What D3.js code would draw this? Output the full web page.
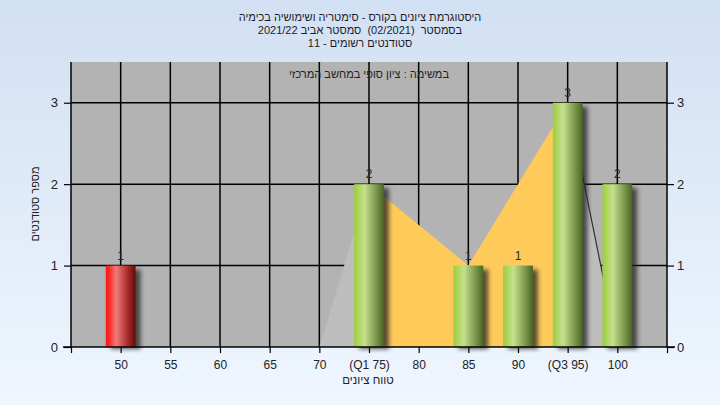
<!DOCTYPE html>
<html>
<head>
<meta charset="utf-8">
<script src="https://cdn.jsdelivr.net/npm/d3@7"></script>
<style>
html,body{margin:0;padding:0;}
body{width:720px;height:405px;overflow:hidden;}
text{font-family:"Liberation Sans", Arial, sans-serif;}
</style>
</head>
<body>
<svg id="chart" width="720" height="405"></svg>
<script>
// ---- data ----
const grades = [50, 55, 60, 65, 70, 75, 80, 85, 90, 95, 100];
const gradeLabels = ["50", "55", "60", "65", "70", "(Q1 75)", "80", "85", "90", "(Q3 95)", "100"];
const counts = [1, 0, 0, 0, 0, 2, 0, 1, 1, 3, 2];
const failLimit = 55;
const areaGrades = [70, 75, 85, 95, 100];
const areaValues = [0, 2, 1, 3, 0];
const q1 = 75, q3 = 95;
const yTicks = [0, 1, 2, 3];
const titleLines = ["היסטוגרמת ציונים בקורס - סימטריה ושימושיה בכימיה",
                    "בסמסטר  (02/2021)  סמסטר אביב 2021/22",
                    "סטודנטים רשומים - 11"];
const innerLabel = "במשימה : ציון סופי במחשב המרכזי";
const xTitle = "טווח ציונים";
const yTitle = "מספר סטודנטים";

const svg = d3.select("#chart");
const defs = svg.append("defs");

const bg = defs.append("linearGradient").attr("id","bg").attr("x1",0).attr("x2",0).attr("y1",0).attr("y2",1);
bg.append("stop").attr("offset","0%").attr("stop-color","#d2e0f3");
bg.append("stop").attr("offset","100%").attr("stop-color","#eff6fe");

function cyl(id, stops){
  const g = defs.append("linearGradient").attr("id",id).attr("x1",0).attr("x2",1).attr("y1",0).attr("y2",0);
  stops.forEach(s=>g.append("stop").attr("offset",s[0]).attr("stop-color",s[1]));
}
cyl("red", [["0%","#ff1414"],["12%","#ff2a2a"],["35%","#f07c7c"],["50%","#d55a5a"],["75%","#a52a2a"],["100%","#640808"]]);
cyl("green", [["0%","#9ccd42"],["15%","#acd660"],["35%","#c6e08e"],["50%","#a8c474"],["75%","#78964a"],["100%","#4a6424"]]);

const blur = defs.append("filter").attr("id","sh").attr("x","-50%").attr("y","-20%").attr("width","200%").attr("height","140%");
blur.append("feGaussianBlur").attr("stdDeviation",2.2);

svg.append("rect").attr("width",720).attr("height",405).attr("fill","url(#bg)");

const L = 71, R = 667, T = 62, B = 347;
const x = d3.scaleLinear().domain([45, 105]).range([L, R]);
const y = d3.scaleLinear().domain([0, 3.5]).range([B, T]);

// plot background
svg.append("rect").attr("x",L).attr("y",T).attr("width",R-L).attr("height",B-T).attr("fill","#b3b3b3");

// gridlines
const grid = svg.append("g").attr("stroke","#000").attr("stroke-width",1.5);
grades.forEach(g=>grid.append("line").attr("x1",x(g)).attr("x2",x(g)).attr("y1",T).attr("y2",B));
yTicks.slice(1).forEach(t=>grid.append("line").attr("x1",L).attr("x2",R).attr("y1",y(t)).attr("y2",y(t)));

// area (light grey outside quartiles, yellow inside)
const pts = areaGrades.map((g,i)=>[g, areaValues[i]]);
const area = d3.area().x(d=>x(d[0])).y0(y(0)).y1(d=>y(d[1]));
const left = pts.filter(d=>d[0]<=q1), mid = pts.filter(d=>d[0]>=q1 && d[0]<=q3), right = pts.filter(d=>d[0]>=q3);
svg.append("path").attr("d",area(left)).attr("fill","#bdbdbd");
svg.append("path").attr("d",area(mid)).attr("fill","#fecb5b");
svg.append("path").attr("d",area(right)).attr("fill","#bdbdbd");
svg.append("path").attr("d",d3.line().x(d=>x(d[0])).y(d=>y(d[1]))(right)).attr("fill","none").attr("stroke","#333").attr("stroke-width",1.2);

// bars
const bw = x(48) - x(45);
const bars = svg.append("g");
grades.forEach((g,i)=>{
  if(!counts[i]) return;
  const bx = x(g) - bw/2, by = y(counts[i]), bh = y(0) - by;
  bars.append("rect").attr("x",bx+5).attr("y",by+4).attr("width",bw).attr("height",bh-2)
    .attr("fill","#222").attr("opacity",0.75).attr("filter","url(#sh)");
});
grades.forEach((g,i)=>{
  if(!counts[i]) return;
  const bx = x(g) - bw/2, by = y(counts[i]), bh = y(0) - by;
  bars.append("rect").attr("x",bx).attr("y",by).attr("width",bw).attr("height",bh)
    .attr("fill", g < failLimit ? "url(#red)" : "url(#green)");
  bars.append("text").attr("x",x(g)).attr("y",by-6).attr("text-anchor","middle")
    .attr("font-size",12).attr("fill","#2a2a2a").text(counts[i]);
});

// axes frame
const ax = svg.append("g").attr("stroke","#000").attr("stroke-width",1.5);
ax.append("line").attr("x1",L).attr("x2",L).attr("y1",T).attr("y2",B);
ax.append("line").attr("x1",R).attr("x2",R).attr("y1",T).attr("y2",B);
ax.append("line").attr("x1",L-8).attr("x2",R+8).attr("y1",B).attr("y2",B);

// bottom axis
const xAxis = d3.axisBottom(x).tickValues(d3.range(45, 106, 5)).tickSize(6)
  .tickFormat(d=>{const i = grades.indexOf(d); return i<0 ? "" : gradeLabels[i];});
const gx = svg.append("g").attr("transform",`translate(0,${B})`).call(xAxis);
gx.select(".domain").remove();
gx.selectAll("line").attr("stroke","#000").attr("stroke-width",1.2);
gx.selectAll("text").attr("font-size",12).attr("fill","#222").attr("dy","1.1em").attr("direction","ltr");

// left / right axes
const yl = svg.append("g").attr("transform",`translate(${L},0)`).call(d3.axisLeft(y).tickValues(yTicks).tickSize(7).tickPadding(6).tickFormat(d3.format("d")));
const yr = svg.append("g").attr("transform",`translate(${R},0)`).call(d3.axisRight(y).tickValues(yTicks).tickSize(7).tickPadding(3).tickFormat(d3.format("d")));
[yl,yr].forEach(g=>{
  g.select(".domain").remove();
  g.selectAll("line").attr("stroke","#000").attr("stroke-width",1.2);
  g.selectAll("text").attr("font-size",13).attr("fill","#222");
});

// titles
titleLines.forEach((t,i)=>{
  svg.append("text").attr("x",360).attr("y",21+i*13).attr("text-anchor","middle")
    .attr("direction","rtl").attr("xml:space","preserve").style("white-space","pre")
    .attr("font-size",11).attr("fill","#1c1c2c").text(t);
});
svg.append("text").attr("x",369).attr("y",78).attr("text-anchor","middle").attr("direction","rtl")
  .attr("font-size",11).attr("fill","#222").text(innerLabel);
svg.append("text").attr("x",368).attr("y",384).attr("text-anchor","middle").attr("direction","rtl")
  .attr("font-size",11.5).attr("fill","#222").text(xTitle);
svg.append("text").attr("transform","translate(39,204) rotate(-90)").attr("text-anchor","middle").attr("direction","rtl")
  .attr("font-size",11).attr("fill","#222").text(yTitle);
</script>
</body>
</html>
